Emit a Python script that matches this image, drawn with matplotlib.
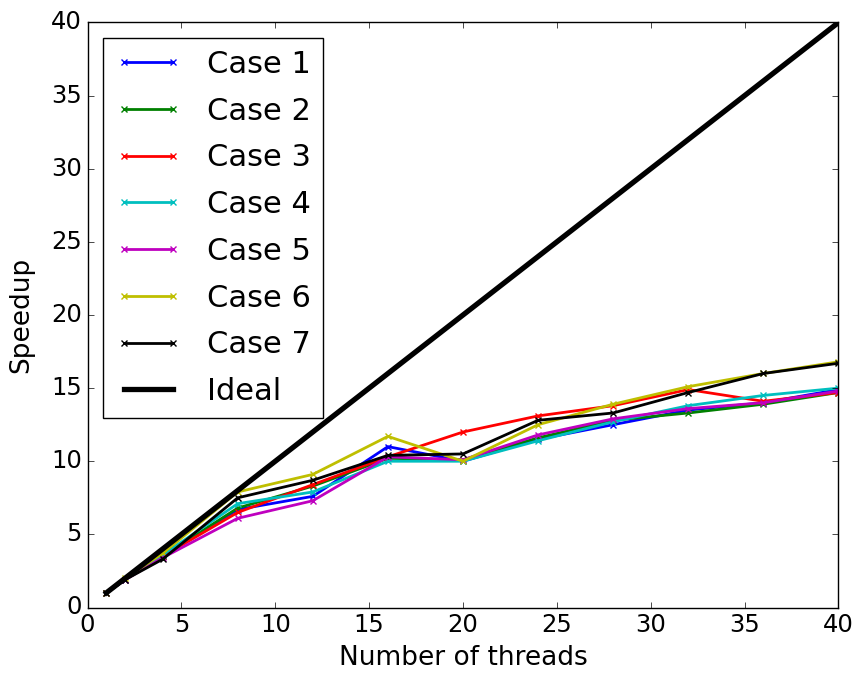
import matplotlib
matplotlib.use("Agg")
import matplotlib.pyplot as plt

threads = [1, 2, 4, 8, 12, 16, 20, 24, 28, 32, 36, 40]

case1 = [1.0, 1.9, 3.5, 6.7, 7.6, 11.0, 10.0, 11.5, 12.5, 13.5, 14.0, 14.9]
case2 = [1.0, 1.9, 3.5, 6.8, 8.3, 10.2, 10.1, 11.6, 12.8, 13.3, 13.9, 14.7]
case3 = [1.0, 1.9, 3.5, 6.5, 8.4, 10.3, 12.0, 13.1, 13.8, 14.9, 14.1, 14.7]
case4 = [1.0, 1.9, 3.6, 7.1, 7.9, 10.0, 10.0, 11.4, 12.7, 13.8, 14.5, 15.0]
case5 = [1.0, 1.9, 3.4, 6.1, 7.3, 10.3, 10.1, 11.8, 12.9, 13.6, 14.0, 14.8]
case6 = [1.0, 2.0, 3.7, 7.9, 9.1, 11.7, 10.0, 12.5, 13.9, 15.1, 16.0, 16.8]
case7 = [1.0, 1.9, 3.3, 7.5, 8.7, 10.4, 10.5, 12.8, 13.3, 14.7, 16.0, 16.7]
ideal = [1, 40]

labels = ["Case 1", "Case 2", "Case 3", "Case 4", "Case 5", "Case 6", "Case 7"]
series = [case1, case2, case3, case4, case5, case6, case7]
colors = ["b", "g", "r", "c", "m", "y", "k"]

plt.style.use("classic")

fig = plt.figure(figsize=(8.54, 6.75), dpi=100, facecolor="white")
ax = fig.add_axes([0.1025, 0.1, 0.8793, 0.8667])

for values, label, color in zip(series, labels, colors):
    ax.plot(threads, values, color=color, marker="x", markersize=5,
            markeredgewidth=1, linewidth=2, label=label)
ax.plot(ideal, ideal, color="k", linewidth=3.8, label="Ideal")

ax.set_xlim(0, 40)
ax.set_ylim(0, 40)
ax.tick_params(labelsize=17.5)
ax.set_xlabel("Number of threads", fontsize=19, labelpad=6)
ax.set_ylabel("Speedup", fontsize=19, labelpad=12)
ax.legend(loc="upper left", fontsize=22, numpoints=2, handlelength=2.2,
          labelspacing=0.58)

fig.savefig("out.png", dpi=100, facecolor="white")
